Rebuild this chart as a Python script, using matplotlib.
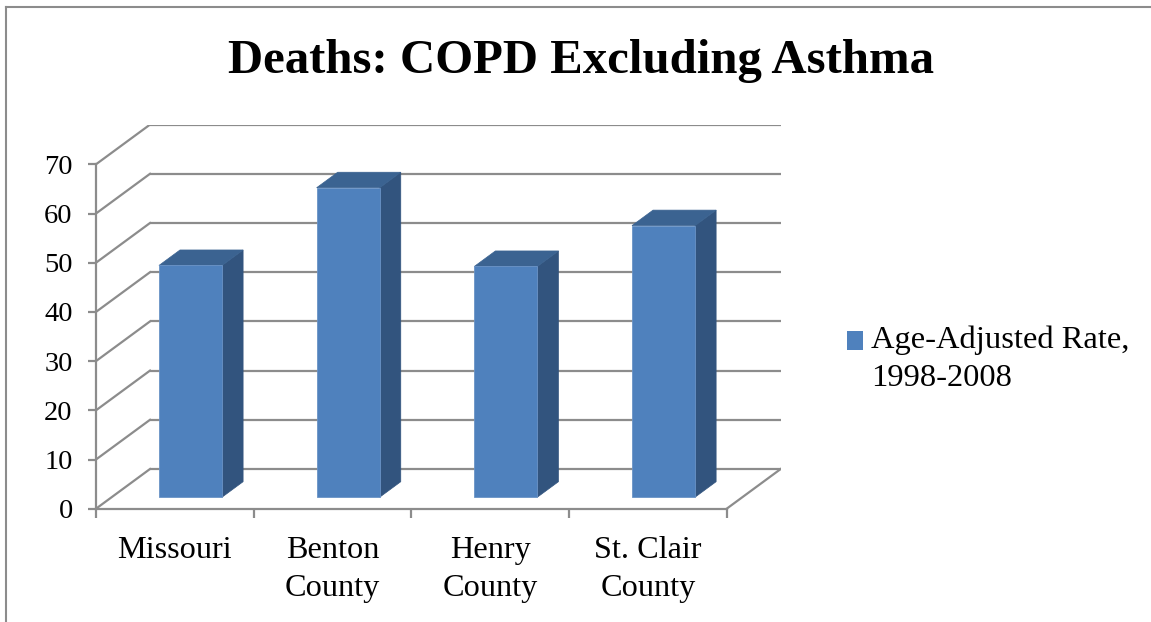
import matplotlib
matplotlib.use("Agg")
import matplotlib.pyplot as plt
from matplotlib.patches import Polygon, Patch, Rectangle
from matplotlib.legend_handler import HandlerPatch
from matplotlib.lines import Line2D

# ---------------- data ----------------
categories = ["Missouri", "Benton\nCounty", "Henry\nCounty", "St. Clair\nCounty"]
values = [47.1, 62.9, 46.9, 55.2]
series_name = "Age-Adjusted Rate,\n1998-2008"
y_ticks = [0, 10, 20, 30, 40, 50, 60, 70]
title = "Deaths: COPD Excluding Asthma"

# ---------------- style ----------------
plt.rcParams["font.family"] = ["Liberation Serif", "DejaVu Serif"]
GRID = "#8C8C8C"
FRONT = "#4F81BD"
SIDE = "#32547E"
TOP = "#3B6391"

W, H = 1151, 622
fig = plt.figure(figsize=(W / 100, H / 100), dpi=100)

n = len(categories)
ymax = max(y_ticks)
px_per_cat = (726.7 - 96) / n
px_per_val = (508.7 - 164.3) / ymax
DX = 54 / px_per_cat          # oblique depth offset in category units
DY = 39.7 / px_per_val        # oblique depth offset in value units
left_px, bottom_px = 96, 508.7

ax = fig.add_axes([left_px / W, (H - bottom_px) / H,
                   (n + DX) * px_per_cat / W, (ymax + DY) * px_per_val / H])
ax.set_xlim(0, n + DX)
ax.set_ylim(0, ymax + DY)
ax.patch.set_visible(False)

# walls / floor gridlines
for v in y_ticks:
    ax.plot([DX, n + DX], [v + DY, v + DY], color=GRID, lw=1.6, zorder=1,
            solid_capstyle="butt")
    ax.plot([0, DX], [v, v + DY], color=GRID, lw=1.6, zorder=1)
ax.plot([n, n + DX], [0, DY], color=GRID, lw=1.6, zorder=1)

# 3D-looking bars (oblique projection)
f0, f1 = 0.29, 0.68
bw = 0.40
d = f1 - f0
for i, v in enumerate(values):
    x0 = i + (1 - bw) / 2 + f0 * DX
    x1 = x0 + bw
    yb = f0 * DY
    yt = v + f0 * DY
    front = [(x0, yb), (x1, yb), (x1, yt), (x0, yt)]
    side = [(x1, yb), (x1 + d * DX, yb + d * DY), (x1 + d * DX, yt + d * DY), (x1, yt)]
    top = [(x0, yt), (x1, yt), (x1 + d * DX, yt + d * DY), (x0 + d * DX, yt + d * DY)]
    ax.add_patch(Polygon(side, closed=True, facecolor=SIDE, edgecolor=SIDE, lw=0.5, zorder=3))
    ax.add_patch(Polygon(top, closed=True, facecolor=TOP, edgecolor=TOP, lw=0.5, zorder=3))
    ax.add_patch(Polygon(front, closed=True, facecolor=FRONT, edgecolor="#6A93C6", lw=0.6, zorder=4))

# axes / spines
for s in ["top", "right"]:
    ax.spines[s].set_visible(False)
for s in ["left", "bottom"]:
    ax.spines[s].set_color(GRID)
    ax.spines[s].set_linewidth(1.6)
ax.spines["left"].set_bounds(0, ymax)
ax.spines["bottom"].set_bounds(0, n)

ax.set_yticks(y_ticks)
ax.set_yticklabels([str(t) for t in y_ticks])
ax.tick_params(axis="y", direction="out", length=5.8, width=1.6, color=GRID,
               pad=11, labelsize=20.5)

ax.set_xticks(range(n + 1))
ax.set_xticklabels([""] * (n + 1))
ax.set_xticks([i + 0.5 for i in range(n)], minor=True)
ax.set_xticklabels(categories, minor=True)
ax.tick_params(axis="x", which="major", direction="out", length=6.5, width=1.6, color=GRID)
ax.tick_params(axis="x", which="minor", length=0, pad=19.5, labelsize=23.2)
for t in ax.get_xticklabels(minor=True):
    t.set_linespacing(1.42)

# title
fig.text(581.5 / W, 1 - 72.7 / H, title, ha="center", va="baseline",
         fontsize=35.1, fontweight="bold")

# legend (square aligned with first text line)
SHIFT = 13.3
def _square(legend, orig_handle, xdescent, ydescent, width, height, fontsize):
    return Rectangle((-xdescent, -ydescent + SHIFT), width, height)

leg = fig.legend(handles=[Patch(facecolor=FRONT, edgecolor="none", label=series_name)],
                 loc="upper left", bbox_to_anchor=(846.7 / W, 1 - 325.5 / H),
                 frameon=False, fontsize=23.4, handlelength=0.49, handleheight=0.49,
                 handletextpad=0.26, borderpad=0, borderaxespad=0,
                 handler_map={Patch: HandlerPatch(patch_func=_square)})
for t in leg.get_texts():
    t.set_linespacing(1.42)

# chart border (left and top)
fig.add_artist(Line2D([6 / W, 6 / W], [0, 1 - 7 / H], transform=fig.transFigure,
                      color=GRID, lw=1.5))
fig.add_artist(Line2D([6 / W, 1], [1 - 7 / H, 1 - 7 / H], transform=fig.transFigure,
                      color=GRID, lw=1.5))

fig.savefig("out.png", dpi=100)
